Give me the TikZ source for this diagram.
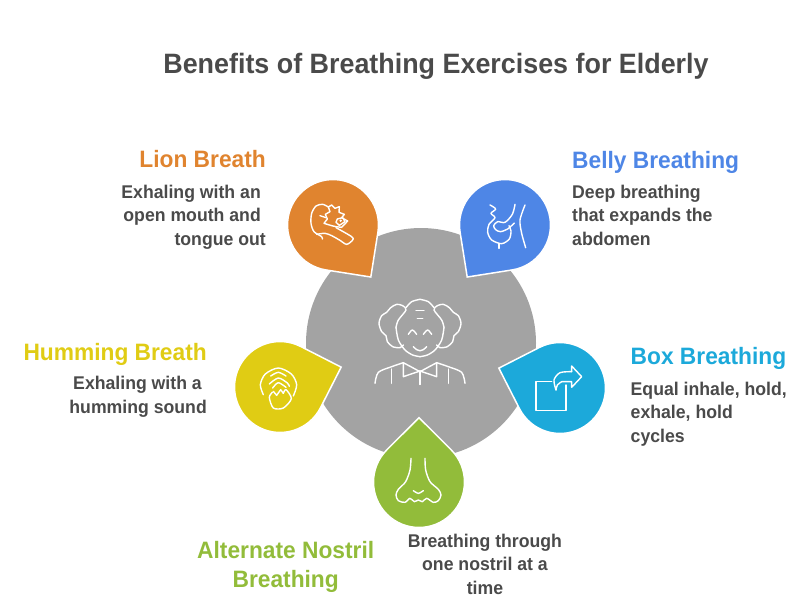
\documentclass[tikz,border=0pt]{standalone}
\usepackage{fontspec}
\setmainfont[FakeStretch=0.96]{Liberation Sans}
\usepackage{xcolor}
\usetikzlibrary{calc}
\definecolor{lionOrange}{HTML}{E0842F}
\definecolor{bellyBlue}{HTML}{4E86E6}
\definecolor{hummingYellow}{HTML}{E0CC14}
\definecolor{boxCyan}{HTML}{1CA9DA}
\definecolor{nostrilGreen}{HTML}{92BC3A}
\definecolor{elderGray}{HTML}{A3A3A3}
\definecolor{textGray}{HTML}{4A4A4A}
\tikzset{%
  % Specifications for style of nodes:
     mainTitle/.style = {text=textGray, inner sep=0pt, anchor=base,
                         font=\bfseries\fontsize{28}{34}\selectfont},
     headLabel/.style = {inner sep=0pt, align=center,
                         font=\bfseries\fontsize{23.7}{29}\selectfont},
      descText/.style = {text=textGray, inner sep=0pt, align=center,
                         font=\bfseries\fontsize{18.4}{23.3}\selectfont},
     dropShape/.style = {draw=white, line width=1.5pt, line join=miter},
      iconLine/.style = {draw=white, line width=1.4pt, line cap=round,
                         line join=round, fill=none},
}
% circle with a square corner: name, angle of the corner, colour
\newcommand{\waterDrop}[3]{%
  \path[dropShape, fill=#3] ($(#1)+(#2:64.3)$)
    -- ($(#1)+(#2+45:45.5)$) arc[start angle=#2+45, delta angle=270, radius=45.5]
    -- cycle;}
\begin{document}
\begin{tikzpicture}[x=1pt, y=1pt, yscale=-1]
  \useasboundingbox (0,0) rectangle (794,610);
  % Specification of nodes (position, etc.)
  \node (mainHeading) at (436,73) [mainTitle] {Benefits of Breathing Exercises for Elderly};
  \node (elderBase) at (421,343) [circle, fill=elderGray, minimum size=230pt, inner sep=0pt] {};

  \coordinate (lionCentre) at (333,225);
  \coordinate (bellyCentre) at (505,225);
  \coordinate (hummingCentre) at (280,387);
  \coordinate (boxCentre) at (560,388);
  \coordinate (nostrilCentre) at (419,482);
  \waterDrop{lionCentre}{54}{lionOrange}
  \waterDrop{bellyCentre}{126}{bellyBlue}
  \waterDrop{hummingCentre}{-18}{hummingYellow}
  \waterDrop{boxCentre}{198}{boxCyan}
  \waterDrop{nostrilCentre}{-90}{nostrilGreen}

  % Elder in the middle
  \foreach \side in {1,-1} {
    \begin{scope}[shift={(420,295)}, xscale=\side/3, yscale=1/3]
      \draw[iconLine] plot[smooth] coordinates {(-72,97) (-65,75) (-42,45) (-52,32) (-70,28) (-88,38)
        (-100,52) (-115,62) (-123,85) (-115,110) (-102,122) (-98,140) (-82,155) (-60,158) (-50,150)};
      \draw[iconLine] plot[smooth] coordinates {(-72,97) (-65,135) (-45,165) (-22,180) (0,185)};
      \draw[iconLine] plot[smooth] coordinates {(-42,38) (-25,20) (0,13)};
      \draw[iconLine] (-12,47) -- (0,47) (-8,71) -- (0,71);
      \draw[iconLine] plot[smooth] coordinates {(-35,118) (-23,105) (-10,118)};
      \draw[iconLine] plot[smooth] coordinates {(-20,155) (-10,164) (0,167)};
      \draw[iconLine] plot[smooth] coordinates {(-135,265) (-125,232) (-85,215) (-50,203)};
      \draw[iconLine] (-50,203) -- (0,230) (-50,203) -- (-50,245) -- (0,228);
      \draw[iconLine] (-85,222) -- (-85,265) (0,228) -- (0,268);
    \end{scope}
  }

  % Lion
  \begin{scope}[shift={(300,195)}, scale=1/3]
    \draw[iconLine] plot[smooth] coordinates {(85,36) (68,28) (48,33) (35,55) (33,85) (42,110) (65,125) (67,132)};
    \draw[iconLine] plot[smooth] coordinates {(50,118) (75,115) (95,122) (120,136) (140,148) (158,135) (155,125) (108,98)};
    \draw[iconLine] (85,36) -- (95,30) -- (105,40) -- (118,35) -- (117,52) -- (133,58) -- (125,68)
      -- (143,78) -- (125,97) -- (108,95) -- (95,92) -- (72,85) -- (82,72) -- (76,58) -- (90,50) -- cycle;
    \draw[iconLine] (60,62) -- (78,68);
    \draw[iconLine] (112,72) -- (128,68) -- (135,80) -- (118,91) -- (108,82) -- cycle;
    \fill[white] (122,77) circle (4);
  \end{scope}

  % Belly
  \begin{scope}[shift={(475,195)}, scale=1/3]
    \draw[iconLine] plot[smooth] coordinates {(150,30) (135,75) (140,115) (152,158)};
    \draw[iconLine] plot[smooth] coordinates {(45,30) (62,42) (48,55) (60,68) (42,88) (38,112) (50,135) (80,146) (103,132) (108,108) (102,92)};
    \draw[iconLine] plot[smooth] coordinates {(120,28) (112,58) (90,82) (68,80) (56,92) (62,104) (76,110) (98,102) (118,84)};
    \draw[iconLine] (72,146) -- (72,160);
  \end{scope}

  % Humming
  \begin{scope}[shift={(250,358)}, scale=1/3]
    \draw[iconLine] plot[smooth] coordinates {(40,110) (31,80) (46,48) (85,30) (124,48) (140,80) (130,114)};
    \draw[iconLine] plot[smooth] coordinates {(62,54) (85,43) (108,54)};
    \draw[iconLine] plot[smooth] coordinates {(58,78) (85,60) (112,75) (118,85)};
    \draw[iconLine] plot[smooth] coordinates {(68,90) (85,74) (108,88)};
    \draw[iconLine] plot[smooth] coordinates {(68,102) (58,118) (70,150) (100,150) (124,122) (108,95) (100,106)};
    \draw[iconLine] (100,106) -- (92,95) -- (80,112) -- (70,100);
  \end{scope}

  % Box
  \begin{scope}[shift={(480,330)}, scale=1/3]
    \draw[iconLine] (215,155) -- (168,155) -- (168,242) -- (258,242) -- (258,165);
    \draw[iconLine] plot[smooth] coordinates {(228,180) (222,150) (240,128) (275,125)};
    \draw[iconLine] (275,125) -- (275,108) -- (305,140) -- (275,172) -- (275,155) -- (245,155);
    \draw[iconLine] plot[smooth] coordinates {(245,155) (232,165) (228,180)};
  \end{scope}

  % Nose
  \begin{scope}[shift={(385,450)}, scale=1/3]
    \draw[iconLine] plot[smooth] coordinates {(78,25) (75,60) (62,95) (40,118) (33,135) (40,152) (60,157) (75,145) (88,155) (100,150) (112,155) (125,145) (145,157) (160,152) (168,135) (160,118) (135,95) (122,60) (120,25)};
    \draw[iconLine] plot[smooth] coordinates {(85,122) (100,130) (115,122)};
  \end{scope}

  % Specification of texts beside the drops
  \node (lionHead) at (266,167) [headLabel, text=lionOrange, anchor=base east] {Lion Breath};
  \node (lionText) at (266,245) [descText, align=right, anchor=base east]
    {Exhaling with an\kern5pt\\open mouth and\kern5pt\\tongue out};
  \node (bellyHead) at (572,168) [headLabel, text=bellyBlue, anchor=base west] {Belly Breathing};
  \node (bellyText) at (572,245) [descText, align=left, anchor=base west]
    {Deep breathing\\that expands the\\abdomen};
  \node (hummingHead) at (207,360) [headLabel, text=hummingYellow, anchor=base east] {Humming Breath};
  \node (hummingText) at (207,413) [descText, align=right, anchor=base east]
    {Exhaling with a\kern5pt\\humming sound};
  \node (boxHead) at (630.5,364) [headLabel, text=boxCyan, anchor=base west] {Box Breathing};
  \node (boxText) at (630.5,442) [descText, align=left, anchor=base west]
    {Equal inhale, hold,\\exhale, hold\\cycles};
  \node (nostrilHead) at (285.7,587) [headLabel, text=nostrilGreen, anchor=base] {Alternate Nostril\\Breathing};
  \node (nostrilText) at (485,594) [descText, anchor=base] {Breathing through\\one nostril at a\\time};
\end{tikzpicture}
\end{document}
